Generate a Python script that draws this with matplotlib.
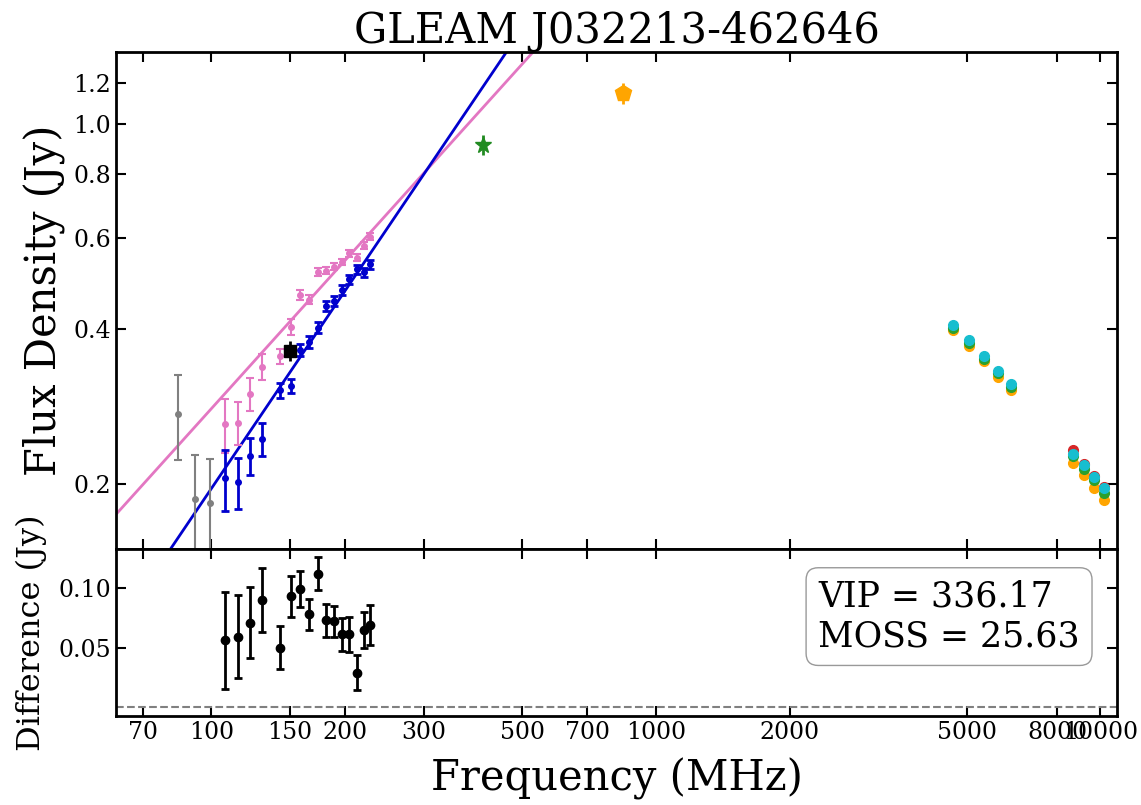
import numpy as np
import matplotlib
matplotlib.use('Agg')
import matplotlib.pyplot as plt
from matplotlib.ticker import FixedLocator, FixedFormatter, NullLocator

plt.rcParams['font.family'] = 'DejaVu Serif'

# GLEAM sub-bands
gleam_freq = [107, 115, 122, 130, 143, 151, 158, 166, 174, 181, 189, 197, 204, 212, 220, 227]
pink_flux = [0.261, 0.263, 0.299, 0.338, 0.354, 0.404, 0.466, 0.456, 0.516, 0.519,
             0.528, 0.540, 0.561, 0.550, 0.580, 0.604]
pink_err = [0.031, 0.025, 0.022, 0.019, 0.012, 0.015, 0.010, 0.009, 0.009, 0.008,
            0.008, 0.008, 0.009, 0.008, 0.009, 0.009]
blue_flux = [0.205, 0.202, 0.227, 0.245, 0.304, 0.310, 0.364, 0.378, 0.402, 0.444,
             0.454, 0.476, 0.500, 0.522, 0.515, 0.534]
blue_err = [0.028, 0.023, 0.019, 0.018, 0.010, 0.010, 0.010, 0.010, 0.010, 0.010,
            0.010, 0.010, 0.010, 0.010, 0.011, 0.011]

gray_freq = [84, 92, 99]
gray_flux = [0.274, 0.187, 0.184]
gray_err = [0.051, 0.041, 0.040]

tgss_freq, tgss_flux, tgss_err = 150, 0.363, 0.016
mrc_freq, mrc_flux, mrc_err = 408, 0.910, 0.040
sumss_freq, sumss_flux, sumss_err = 843, 1.147, 0.055

# high frequency epochs
hf_freq1 = [4660, 5070, 5470, 5880, 6280]
hf_freq2 = [8680, 9190, 9680, 10170]
orange_hf = [0.398, 0.371, 0.346, 0.323, 0.304, 0.220, 0.208, 0.196, 0.186]
green_hf = [0.402, 0.375, 0.350, 0.328, 0.308, 0.227, 0.214, 0.204, 0.192]
cyan_hf = [0.407, 0.380, 0.354, 0.332, 0.312, 0.229, 0.218, 0.206, 0.196]
red_hf = [0.233, 0.219, 0.207, 0.197]

# power-law fits  S = S150 * (f/150)^alpha
pink_fit = (0.413, 0.957)
blue_fit = (0.329, 1.277)

diff_val = [0.056, 0.059, 0.071, 0.090, 0.050, 0.093, 0.099, 0.078, 0.112, 0.073,
            0.072, 0.061, 0.061, 0.029, 0.065, 0.069]
diff_err = [0.041, 0.035, 0.030, 0.027, 0.018, 0.0175, 0.015, 0.013, 0.014, 0.014,
            0.013, 0.014, 0.015, 0.0145, 0.015, 0.017]

xticks = [70, 100, 150, 200, 300, 500, 700, 1000, 2000, 5000, 8000, 10000]
yticks = [0.2, 0.4, 0.6, 0.8, 1.0, 1.2]

fig = plt.figure(figsize=(11.41, 8.05), dpi=100)
ax = fig.add_axes([0.1017, 0.318, 0.8773, 0.6174])
ax2 = fig.add_axes([0.1017, 0.1106, 0.8773, 0.2074], sharex=ax)

ffit = np.logspace(np.log10(40), np.log10(2000), 200)
ax.plot(ffit, pink_fit[0] * (ffit / 150.) ** pink_fit[1], color='tab:pink', lw=2, zorder=2)
ax.plot(ffit, blue_fit[0] * (ffit / 150.) ** blue_fit[1], color='mediumblue', lw=2, zorder=2)

ax.errorbar(gray_freq, gray_flux, yerr=gray_err, fmt='o', color='gray', ms=4,
            elinewidth=1.5, capsize=3, capthick=1.5)
ax.errorbar(gleam_freq, pink_flux, yerr=pink_err, fmt='o', color='tab:pink', ms=4,
            elinewidth=1.5, capsize=3, capthick=1.5)
ax.errorbar(gleam_freq, blue_flux, yerr=blue_err, fmt='o', color='mediumblue', ms=4,
            elinewidth=2, capsize=3, capthick=2)
ax.errorbar(tgss_freq, tgss_flux, yerr=tgss_err, fmt='s', color='black', ms=9,
            elinewidth=2, zorder=5)
ax.errorbar(mrc_freq, mrc_flux, yerr=mrc_err, fmt='*', color='forestgreen', ms=12,
            elinewidth=2)
ax.errorbar(sumss_freq, sumss_flux, yerr=sumss_err, fmt='p', color='orange', ms=12,
            elinewidth=2)

hf_freq = hf_freq1 + hf_freq2
ax.plot(hf_freq, orange_hf, 'o', color='orange', ms=7)
ax.plot(hf_freq, green_hf, 'o', color='tab:green', ms=7)
ax.plot(hf_freq2, red_hf, 'o', color='tab:red', ms=7)
ax.plot(hf_freq, cyan_hf, 'o', color='tab:cyan', ms=7)

ax.set_xscale('log')
ax.set_yscale('log')
ax.set_xlim(61, 10900)
ax.set_ylim(0.1495, 1.38)
ax.yaxis.set_major_locator(FixedLocator(yticks))
ax.yaxis.set_major_formatter(FixedFormatter(['%.1f' % t for t in yticks]))
ax.yaxis.set_minor_locator(NullLocator())
ax.xaxis.set_major_locator(FixedLocator(xticks))
ax.xaxis.set_minor_locator(NullLocator())
ax.tick_params(axis='both', which='both', direction='in', top=True, right=True,
               labelsize=17, length=7, width=1.5, labelbottom=False)
ax.set_ylabel('Flux Density (Jy)', fontsize=30, labelpad=6)
ax.set_title('GLEAM J032213-462646', fontsize=30, pad=4)
for s in ax.spines.values():
    s.set_linewidth(2)

ax2.errorbar(gleam_freq, diff_val, yerr=diff_err, fmt='o', color='black', ms=6,
             elinewidth=2, capsize=3, capthick=2)
ax2.axhline(0, color='gray', ls='--', lw=1.5)
ax2.set_ylim(-0.0075, 0.1328)
ax2.yaxis.set_major_locator(FixedLocator([0.05, 0.10]))
ax2.yaxis.set_major_formatter(FixedFormatter(['0.05', '0.10']))
ax2.xaxis.set_major_locator(FixedLocator(xticks))
ax2.xaxis.set_major_formatter(FixedFormatter([str(t) for t in xticks]))
ax2.xaxis.set_minor_locator(NullLocator())
ax2.tick_params(axis='both', which='both', direction='in', top=True, right=True,
                labelsize=17, length=7, width=1.5)
ax2.set_ylabel('Difference (Jy)', fontsize=23, labelpad=8)
ax2.set_xlabel('Frequency (MHz)', fontsize=30, labelpad=10)
for s in ax2.spines.values():
    s.set_linewidth(2)
ax2.text(0.7015, 0.815, 'VIP = 336.17\nMOSS = 25.63', transform=ax2.transAxes,
         fontsize=25, ha='left', va='top', linespacing=1.2,
         bbox=dict(boxstyle='round,pad=0.35', facecolor='white', edgecolor='gray', alpha=0.8))

fig.savefig('out.png', dpi=100)
